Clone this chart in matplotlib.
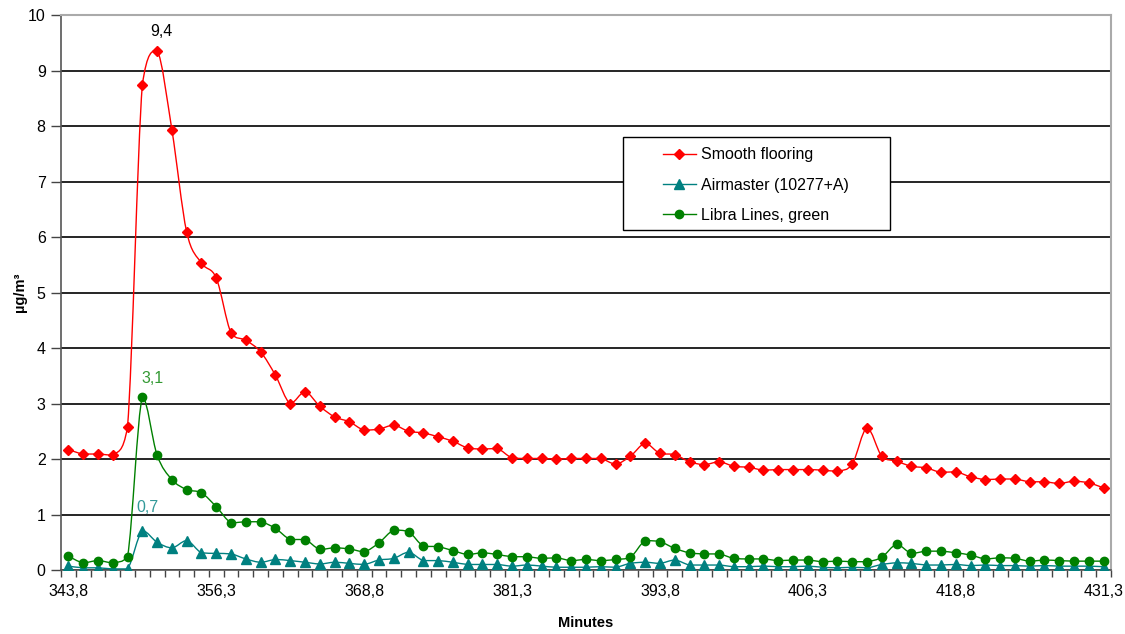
import numpy as np
import matplotlib
matplotlib.use("Agg")
import matplotlib.pyplot as plt
from matplotlib.path import Path
from matplotlib.patches import PathPatch, Rectangle

plt.rcParams['font.family'] = ['Liberation Sans', 'DejaVu Sans']

# data: one reading every 1.25 minutes, 343.8 .. 431.3
start_min = 343.8
step_min = 1.25

smooth = [2.17, 2.09, 2.09, 2.07, 2.58, 8.74, 9.36, 7.93, 6.09, 5.53,
          5.26, 4.27, 4.14, 3.93, 3.51, 3.00, 3.21, 2.95, 2.76, 2.67,
          2.52, 2.54, 2.61, 2.50, 2.47, 2.40, 2.32, 2.20, 2.18, 2.19,
          2.02, 2.01, 2.01, 2.00, 2.01, 2.01, 2.01, 1.91, 2.05, 2.28,
          2.10, 2.08, 1.95, 1.90, 1.95, 1.87, 1.85, 1.80, 1.81, 1.81,
          1.81, 1.80, 1.78, 1.91, 2.56, 2.05, 1.96, 1.87, 1.84, 1.76,
          1.77, 1.68, 1.63, 1.64, 1.64, 1.59, 1.59, 1.56, 1.60, 1.57,
          1.48]

airmaster = [0.07, 0.04, 0.04, 0.02, 0.02, 0.71, 0.50, 0.40, 0.53, 0.31,
             0.30, 0.29, 0.20, 0.14, 0.19, 0.17, 0.14, 0.11, 0.14, 0.12,
             0.10, 0.18, 0.21, 0.32, 0.17, 0.17, 0.14, 0.10, 0.10, 0.10,
             0.07, 0.09, 0.07, 0.05, 0.05, 0.05, 0.06, 0.05, 0.12, 0.14,
             0.12, 0.18, 0.09, 0.09, 0.09, 0.06, 0.06, 0.07, 0.06, 0.06,
             0.07, 0.05, 0.04, 0.05, 0.04, 0.10, 0.13, 0.12, 0.09, 0.09,
             0.10, 0.08, 0.09, 0.08, 0.08, 0.07, 0.08, 0.07, 0.07, 0.07,
             0.06]

libra = [0.25, 0.13, 0.17, 0.13, 0.24, 3.12, 2.07, 1.63, 1.45, 1.39,
         1.14, 0.85, 0.87, 0.87, 0.75, 0.55, 0.55, 0.37, 0.40, 0.38,
         0.33, 0.49, 0.72, 0.69, 0.43, 0.42, 0.35, 0.28, 0.31, 0.28,
         0.24, 0.24, 0.21, 0.22, 0.17, 0.19, 0.17, 0.19, 0.23, 0.53,
         0.51, 0.39, 0.31, 0.29, 0.29, 0.21, 0.20, 0.20, 0.17, 0.18,
         0.18, 0.15, 0.16, 0.15, 0.15, 0.23, 0.46, 0.30, 0.34, 0.34,
         0.31, 0.27, 0.20, 0.22, 0.21, 0.16, 0.18, 0.17, 0.16, 0.16,
         0.16]

minutes = start_min + step_min * np.arange(len(smooth))
label_every = 10
fs = 11.5


def smooth_path(x, y):
    # Excel-style smoothed line: cubic bezier segments through every point,
    # control points kept inside each segment's y range so no overshoot
    p = np.column_stack([x, y])
    verts = [p[0]]
    codes = [Path.MOVETO]
    n = len(p)
    for k in range(n - 1):
        p0 = p[k - 1] if k > 0 else p[k]
        p3 = p[k + 2] if k + 2 < n else p[k + 1]
        c1 = p[k] + (p[k + 1] - p0) / 6
        c2 = p[k + 1] - (p3 - p[k]) / 6
        lo, hi = sorted([p[k][1], p[k + 1][1]])
        c1[1] = min(max(c1[1], lo), hi)
        c2[1] = min(max(c2[1], lo), hi)
        verts += [c1, c2, p[k + 1]]
        codes += [Path.CURVE4] * 3
    return Path(verts, codes)


fig = plt.figure(figsize=(11.25, 6.34), dpi=100)
ax = fig.add_axes([0.0542, 0.1009, 0.9334, 0.8754])

series = [
    (smooth, '#FF0000', 'D', 5.5, 'Smooth flooring'),
    (airmaster, '#008080', '^', 6.5, 'Airmaster (10277+A)'),
    (libra, '#008000', 'o', 6, 'Libra Lines, green'),
]
for vals, col, mk, ms, name in series:
    ax.add_patch(PathPatch(smooth_path(minutes, vals), facecolor='none',
                           edgecolor=col, lw=1, zorder=3))
    ax.plot(minutes, vals, color=col, lw=1, ls='none', marker=mk, ms=ms,
            zorder=4)
    ax.plot([], [], color=col, lw=1, marker=mk, ms=ms, label=name)

# peak labels
i = int(np.argmax(smooth))
ax.annotate(f"{smooth[i]:.1f}".replace('.', ','), (minutes[i], smooth[i]),
            xytext=(3, 8), textcoords='offset points', ha='center',
            va='bottom', fontsize=fs, color='black')
i = int(np.argmax(libra))
ax.annotate(f"{libra[i]:.1f}".replace('.', ','), (minutes[i], libra[i]),
            xytext=(7, 8), textcoords='offset points', ha='center',
            va='bottom', fontsize=fs, color='#339933')
i = int(np.argmax(airmaster))
ax.annotate(f"{airmaster[i]:.1f}".replace('.', ','), (minutes[i], airmaster[i]),
            xytext=(4, 11), textcoords='offset points', ha='center',
            va='bottom', fontsize=fs, color='#339999')

ax.set_xlim(minutes[0] - step_min / 2, minutes[-1] + step_min / 2)
ax.set_ylim(0, 10)

# labels on every 10th reading, tick marks between readings
lab_x = minutes[::label_every]
ax.set_xticks(lab_x)
ax.set_xticklabels([f"{v:.1f}".replace('.', ',') for v in lab_x])
ax.set_xticks(np.append(minutes - step_min / 2, minutes[-1] + step_min / 2),
              minor=True)
ax.tick_params(axis='x', which='major', length=0, pad=10, labelsize=fs)
ax.tick_params(axis='x', which='minor', length=5, width=1, color='#444444')
ax.set_yticks(range(0, 11))
ax.tick_params(axis='y', length=7, width=1, color='#444444', labelsize=fs,
               pad=4)

ax.grid(axis='y', color='black', lw=1.2, zorder=0)
ax.set_axisbelow(True)
for s in ['left', 'bottom']:
    ax.spines[s].set_color('#555555')
    ax.spines[s].set_linewidth(1.2)
for s in ['top', 'right']:
    ax.spines[s].set_color('#AAAAAA')
    ax.spines[s].set_linewidth(1.5)

ax.set_xlabel('Minutes', fontweight='bold', fontsize=10.5, labelpad=12)
ax.set_ylabel('µg/m³', fontweight='bold', fontsize=10.5, labelpad=1)

# legend box drawn separately so it can be wider than its entries
ax.add_patch(Rectangle((0.5352, 0.6126), 0.2543, 0.1676,
                       transform=ax.transAxes, facecolor='white',
                       edgecolor='black', lw=1, zorder=5))
leg = ax.legend(loc='center left', bbox_to_anchor=(0.573, 0.6937),
                fontsize=fs, frameon=False, handlelength=2.1,
                handletextpad=0.3, borderpad=0, labelspacing=0.95,
                borderaxespad=0)
leg.set_zorder(6)

fig.savefig('out.png', dpi=100)
